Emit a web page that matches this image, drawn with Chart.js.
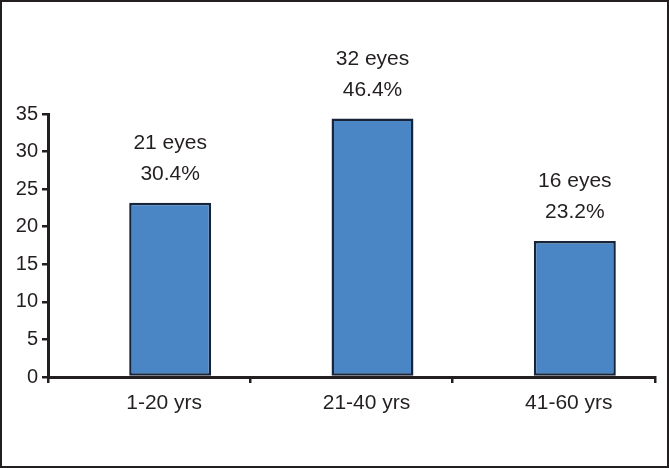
<!DOCTYPE html>
<html><head><meta charset="utf-8">
<script src="https://cdn.jsdelivr.net/npm/chart.js@4"></script>
<style>html,body{margin:0;padding:0;background:#fff}#wrap{width:669px;height:468px;position:relative}canvas{display:block}</style>
</head><body><div id="wrap"><canvas id="c" width="669" height="468"></canvas></div>
<script>
const categories = ['1-20 yrs', '21-40 yrs', '41-60 yrs'];
const barValues = [23.2, 34.4, 18.1];
const eyeCounts = ['21 eyes', '32 eyes', '16 eyes'];
const percentLabels = ['30.4%', '46.4%', '23.2%'];
const yTicks = [0, 5, 10, 15, 20, 25, 30, 35];

const INK = '#231f20';
const BAR_SHIFT = 21;

const shiftAndLabels = {
  id: 'shiftAndLabels',
  beforeDatasetsDraw(chart) {
    chart.ctx.save();
    chart.ctx.translate(BAR_SHIFT, 0);
  },
  afterDatasetsDraw(chart) {
    const ctx = chart.ctx;
    ctx.restore();
    const meta = chart.getDatasetMeta(0);
    ctx.save();
    ctx.fillStyle = INK;
    ctx.font = '21px "Liberation Sans", Arial, sans-serif';
    ctx.textAlign = 'center';
    ctx.textBaseline = 'alphabetic';
    meta.data.forEach((el, i) => {
      const x = el.x + BAR_SHIFT;
      const top = el.y;
      ctx.fillText(percentLabels[i], x, top - 23);
      ctx.fillText(eyeCounts[i], x, top - 54);
    });
    ctx.restore();
  },
  afterDraw(chart) {
    const ctx = chart.ctx;
    ctx.save();
    ctx.strokeStyle = INK;
    ctx.lineWidth = 2;
    ctx.strokeRect(1, 1, chart.width - 2, chart.height - 2);
    ctx.restore();
  }
};

new Chart(document.getElementById('c'), {
  type: 'bar',
  data: {
    labels: categories,
    datasets: [{
      data: barValues,
      backgroundColor: '#4a85c5',
      borderColor: '#17243a',
      borderWidth: 2.5,
      borderSkipped: false,
      categoryPercentage: 1,
      barPercentage: 0.405
    }]
  },
  options: {
    responsive: false,
    animation: false,
    devicePixelRatio: 1,
    layout: { padding: { left: 0, right: 14, top: 114, bottom: 0 } },
    plugins: { legend: { display: false }, tooltip: { enabled: false } },
    scales: {
      x: {
        type: 'category',
        offset: true,
        grid: { offset: true, drawOnChartArea: false, drawTicks: true, tickLength: 6, color: INK, lineWidth: 2.5 },
        border: { display: true, color: INK, width: 3 },
        ticks: { color: INK, font: { family: '"Liberation Sans", Arial, sans-serif', size: 21 }, padding: 8, labelOffset: 15, maxRotation: 0, autoSkip: false },
        afterFit(s) { s.height = 91; }
      },
      y: {
        min: 0, max: 35,
        grid: { drawOnChartArea: false, drawTicks: true, tickLength: 6, color: INK, lineWidth: 2.5 },
        border: { display: true, color: INK, width: 3 },
        ticks: { color: INK, font: { family: '"Liberation Sans", Arial, sans-serif', size: 20 }, padding: 4, stepSize: 5 },
        afterBuildTicks(s) { s.ticks = yTicks.map(v => ({ value: v })); },
        afterFit(s) { s.width = 48; }
      }
    }
  },
  plugins: [shiftAndLabels]
});
</script></body></html>
